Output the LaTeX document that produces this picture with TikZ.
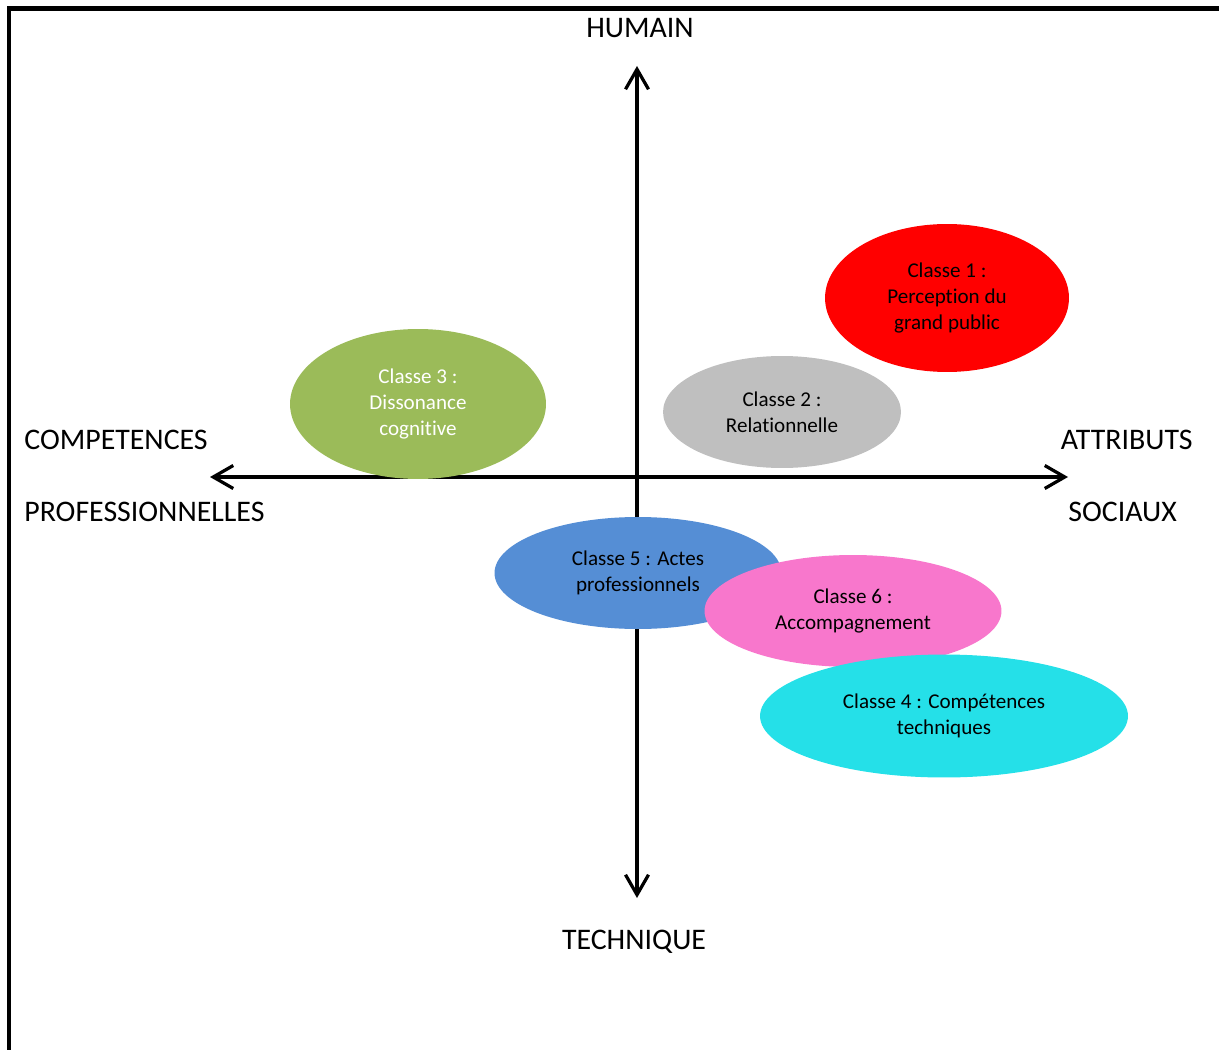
\documentclass[tikz,border=0pt]{standalone}
\usepackage{fontspec}
\setmainfont{Carlito}[Ligatures=NoCommon]
\usetikzlibrary{shapes.geometric, positioning, arrows.meta}
\definecolor{rougeclasse}{HTML}{FF0000}
\definecolor{grisclasse}{HTML}{BFBFBF}
\definecolor{vertclasse}{HTML}{9BBB59}
\definecolor{bleuclasse}{HTML}{558ED5}
\definecolor{roseclasse}{HTML}{F877CC}
\definecolor{cyanclasse}{HTML}{25E0E8}
\tikzset{
    axe/.style={line width=1.85pt, {Straight Barb[length=0.4cm, width=0.46cm]}-{Straight Barb[length=0.4cm, width=0.46cm]}},
    titreaxe/.style={font=\fontsize{17}{21}\selectfont, inner sep=0pt},
    classe/.style={ellipse, inner sep=0pt, align=center, font=\fontsize{12}{15}\selectfont}
}
\begin{document}
\begin{tikzpicture}[x=0.02cm, y=-0.02cm]
        \useasboundingbox (0,0) rectangle (1219,1050);
        %cadre
        \draw[line width=2.3pt] (9,1050) -- (9,8.5) -- (1219,8.5);
        %extremites des axes
        \coordinate (haut) at (637,66);
        \coordinate (bas) at (637,898);
        \coordinate (gauche) at (210,477);
        \coordinate (droite) at (1068,477);
        %axes
        \draw[axe] (bas) -- (haut);
        \draw[axe] (gauche) -- (droite);
        %titres des axes
        \node[titreaxe] (humain) at (640,28) {HUMAIN};
        \node[titreaxe] (technique) at (634,942) {TECHNIQUE};
        \node[titreaxe, anchor=west] (competences) at (24,440) {COMPETENCES};
        \node[titreaxe, anchor=west] (professionnelles) at (24,512) {PROFESSIONNELLES};
        \node[titreaxe, anchor=east] (attributs) at (1193,440) {ATTRIBUTS};
        \node[titreaxe, anchor=west] (sociaux) at (1068,512) {SOCIAUX};
        %classes
        \node[classe, fill=rougeclasse, minimum width=4.88cm, minimum height=2.96cm] (classe1) at (947,298) {Classe 1 :\\Perception du\\grand public};
        \node[classe, fill=grisclasse, minimum width=4.76cm, minimum height=2.24cm] (classe2) at (782,412) {Classe 2 :\\Relationnelle};
        \node[classe, fill=vertclasse, text=white, minimum width=5.12cm, minimum height=3cm] (classe3) at (418,404) {Classe 3 :\\Dissonance\\cognitive};
        \node[classe, fill=bleuclasse, minimum width=5.74cm, minimum height=2.24cm] (classe5) at (638,573) {Classe 5 : Actes\\professionnels};
        \node[classe, fill=roseclasse, minimum width=5.94cm, minimum height=2.24cm] (classe6) at (853,611) {Classe 6 :\\Accompagnement};
        \node[classe, fill=cyanclasse, minimum width=7.36cm, minimum height=2.46cm] (classe4) at (944,716) {Classe 4 : Compétences\\techniques};
\end{tikzpicture}
\end{document}
